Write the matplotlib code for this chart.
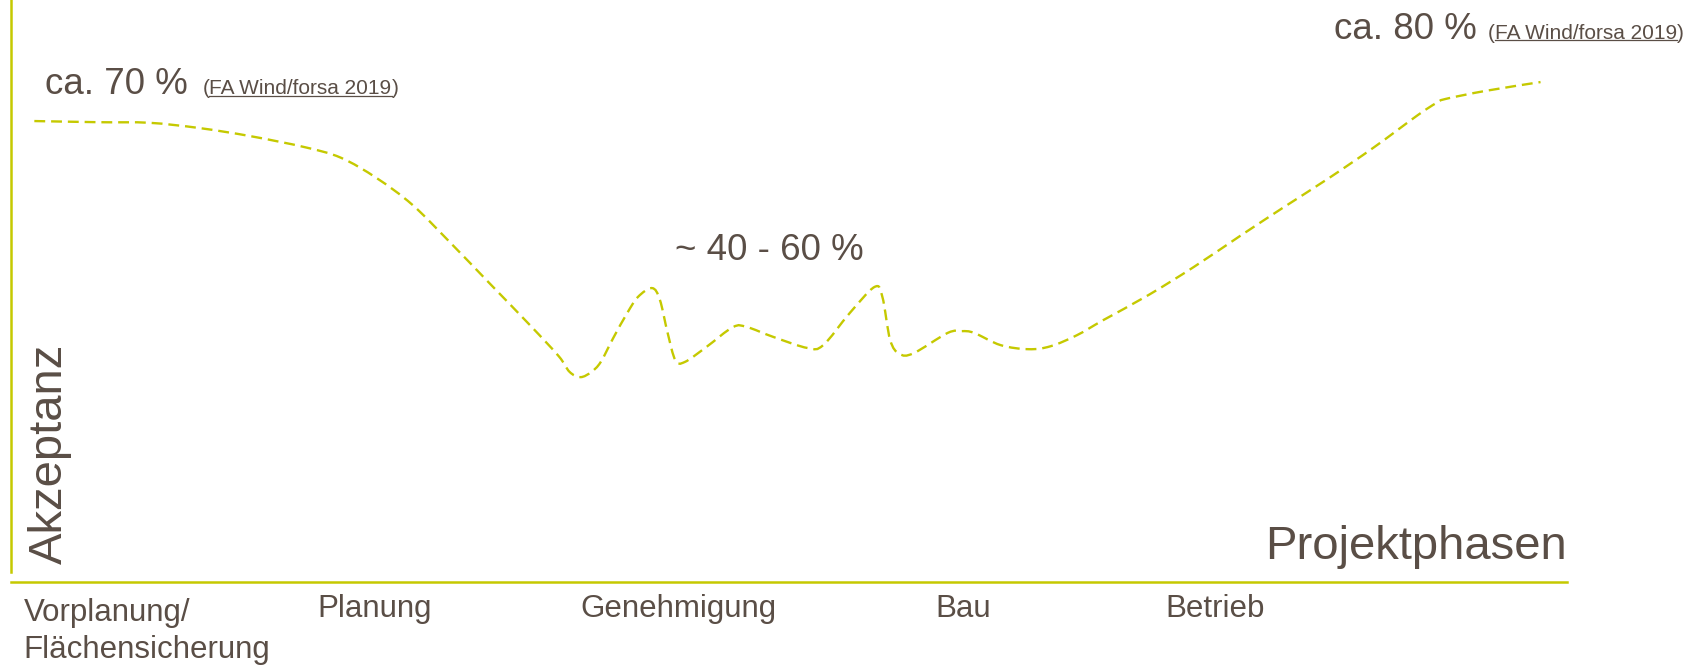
import numpy as np
import matplotlib
matplotlib.use("Agg")
import matplotlib.pyplot as plt
from matplotlib.lines import Line2D
from matplotlib.path import Path
from matplotlib.patches import PathPatch
import matplotlib.transforms as mtransforms

plt.rcParams['font.family'] = ['Liberation Sans', 'DejaVu Sans']

green = "#c5c900"
txt = "#5a4e46"

# schematischer Akzeptanzverlauf (x: Projektfortschritt 0-100, y: Akzeptanz-Index 0-100)
progress = [1.5, 5.7, 8.9, 12.1, 15.4, 18.9, 21.2, 23.5, 25.8, 28.2, 30.8, 33.4, 35.2,
            35.9, 36.6, 37.3, 37.9, 38.7, 39.6, 40.3, 41.2, 41.7, 42.2, 42.7, 43.3, 44.7,
            46.4, 47.3, 49.0, 51.2, 52.2, 53.9, 55.5, 56.0, 56.5, 57.1, 58.0, 60.2, 61.1,
            61.9, 63.6, 65.4, 66.8, 68.5, 70.2, 73.1, 76.0, 78.9, 81.8, 84.7, 87.6, 90.4,
            91.6, 92.2, 94.8, 98.3]
acceptance = [79.2, 79.0, 78.9, 78.0, 76.6, 74.7, 72.9, 69.4, 64.8, 58.4, 51.2, 44.0, 38.8,
              36.1, 35.2, 36.1, 37.8, 41.9, 46.2, 49.0, 50.5, 48.5, 42.8, 38.1, 37.8, 40.4,
              43.8, 43.8, 42.1, 40.2, 40.7, 46.2, 50.7, 49.0, 41.6, 39.2, 39.3, 42.8, 43.1,
              42.8, 40.7, 40.0, 40.5, 42.4, 45.0, 49.3, 54.1, 59.3, 64.4, 69.4, 74.7, 80.2,
              82.3, 83.0, 84.4, 85.9]

phases = ["Vorplanung/\nFlächensicherung", "Planung", "Genehmigung", "Bau", "Betrieb"]
phase_pos = [0.8, 19.7, 36.6, 59.4, 74.2]

W, H = 1701, 665
fig = plt.figure(figsize=(W / 100, H / 100), dpi=100)
ax = fig.add_axes([11 / W, 83 / H, 1556 / W, 582 / H])
ax.set_xlim(0, 100)
ax.set_ylim(0, 100)
ax.set_xticks([])
ax.set_yticks([])
for s in ["top", "right"]:
    ax.spines[s].set_visible(False)
ax.spines["left"].set_color(green)
ax.spines["bottom"].set_color(green)
ax.spines["left"].set_linewidth(1.8)
ax.spines["bottom"].set_linewidth(1.8)
ax.spines["left"].set_bounds(1.7, 100)

# smooth curve through the points: Bezier segments (Catmull-Rom control points)
P = np.column_stack([progress, acceptance])
Pe = np.vstack([P[0], P, P[-1]])
verts = [P[0]]
codes = [Path.MOVETO]
for i in range(len(P) - 1):
    p0, p1, p2, p3 = Pe[i], Pe[i + 1], Pe[i + 2], Pe[i + 3]
    verts += [p1 + (p2 - p0) / 6, p2 - (p3 - p1) / 6, p2]
    codes += [Path.CURVE4] * 3
ax.add_patch(PathPatch(Path(verts, codes), fill=False, edgecolor=green, linewidth=1.7,
                       linestyle=(0, (4.6, 2.5)), capstyle="butt"))

# texts
ax.text(2.2, 83.8, "ca. 70 %", fontsize=26.5, color=txt, va="baseline", ha="left")
ax.text(85.0, 93.3, "ca. 80 %", fontsize=26.5, color=txt, va="baseline", ha="left")
ax.text(42.7, 55.3, "~ 40 - 60 %", fontsize=26.5, color=txt, va="baseline", ha="left")


def source(x, y):
    t1 = ax.text(x, y, "(", fontsize=15, color=txt, va="baseline", ha="left")
    t2 = ax.annotate("FA Wind/forsa 2019", xy=(1, 0), xycoords=t1, fontsize=15,
                     color=txt, va="bottom", ha="left")
    ax.annotate(")", xy=(1, 0), xycoords=t2, fontsize=15, color=txt, va="bottom", ha="left")
    return t2


src = [source(12.3, 83.8), source(94.9, 93.3)]

fig.text(1567 / W, 1 - 559 / H, "Projektphasen", fontsize=34, color=txt,
         ha="right", va="baseline")
fig.text(28 / W, 1 - 564 / H, "Akzeptanz", fontsize=34, color=txt,
         rotation=90, ha="left", va="bottom")

tr = mtransforms.blended_transform_factory(ax.transData, fig.transFigure)
for i, (lab, xp) in enumerate(zip(phases, phase_pos)):
    ytop = 598 if i == 0 else 594
    ax.text(xp, 1 - ytop / H, lab, fontsize=22.5, color=txt, ha="left", va="top",
            linespacing=1.3, transform=tr)

# underline the source references
fig.canvas.draw()
inv = fig.transFigure.inverted()
for t in src:
    bb = t.get_window_extent()
    (x0, y0), (x1, _) = inv.transform([[bb.x0, bb.y0 + 2.5], [bb.x1, bb.y0]])
    fig.add_artist(Line2D([x0, x1], [y0, y0], color=txt, linewidth=0.9))

fig.savefig("out.png", dpi=100)
